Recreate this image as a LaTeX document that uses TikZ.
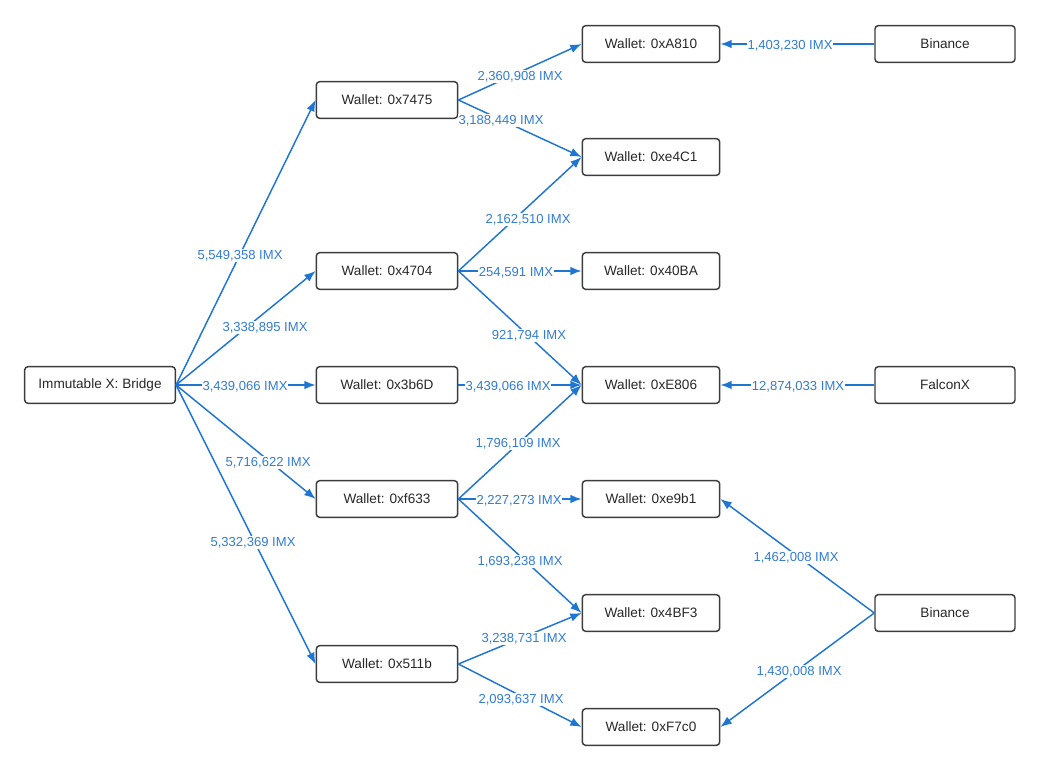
\documentclass[tikz,border=0pt]{standalone}
\usepackage{fontspec}
\setmainfont{Liberation Sans}
\usetikzlibrary{arrows.meta}
\definecolor{edgeblue}{RGB}{31,117,210}
\definecolor{lblblue}{RGB}{50,125,208}
\definecolor{boxline}{RGB}{60,60,60}
\definecolor{boxtext}{RGB}{40,40,40}
\begin{document}
\begin{tikzpicture}[x=0.75pt,y=-0.75pt,
  box/.style={draw=boxline,line width=1.1pt,rounded corners=2.5pt,fill=white,
    minimum height=27.5pt,inner sep=0pt,text=boxtext,font=\fontsize{10.2}{12}\selectfont},
  wA/.style={box,minimum width=113pt},
  wB/.style={box,minimum width=106pt},
  wC/.style={box,minimum width=103pt},
  wD/.style={box,minimum width=105pt},
  flow/.style={draw=edgeblue,line width=1.1pt,-{Latex[length=8.5pt,width=6.5pt]}},
  lbl/.style={fill=white,inner sep=0.6pt,yshift=-1.1pt,text=lblblue,font=\fontsize{9.8}{11}\selectfont}]
\useasboundingbox (0,0) rectangle (1040,770);
% nodes
\node[wA] (br) at (100,385) {Immutable X: Bridge};
\node[wB] (w7475) at (387,100) {Wallet: 0x7475};
\node[wB] (w4704) at (387,271) {Wallet: 0x4704};
\node[wB] (w3b6d) at (387,385) {Wallet: 0x3b6D};
\node[wB] (wf633) at (387,499) {Wallet: 0xf633};
\node[wB] (w511b) at (387,664) {Wallet: 0x511b};
\node[wC] (wa810) at (651,44) {Wallet: 0xA810};
\node[wC] (we4c1) at (651,157) {Wallet: 0xe4C1};
\node[wC] (w40ba) at (651,271) {Wallet: 0x40BA};
\node[wC] (we806) at (651,385) {Wallet: 0xE806};
\node[wC] (we9b1) at (651,499) {Wallet: 0xe9b1};
\node[wC] (w4bf3) at (651,613) {Wallet: 0x4BF3};
\node[wC] (wf7c0) at (651,727) {Wallet: 0xF7c0};
\node[wD] (bin1) at (945,44) {Binance};
\node[wD] (falx) at (945,385) {FalconX};
\node[wD] (bin2) at (945,613) {Binance};
% edges
\draw[flow] (br.east) -- (w7475.west);
\draw[flow] (br.east) -- (w4704.west);
\draw[flow] (br.east) -- (w3b6d.west);
\draw[flow] (br.east) -- (wf633.west);
\draw[flow] (br.east) -- (w511b.west);
\draw[flow] (w7475.east) -- (wa810.west);
\draw[flow] (w7475.east) -- (we4c1.west);
\draw[flow] (w4704.east) -- (we4c1.west);
\draw[flow] (w4704.east) -- (w40ba.west);
\draw[flow] (w4704.east) -- (we806.west);
\draw[flow] (w3b6d.east) -- (we806.west);
\draw[flow] (wf633.east) -- (we806.west);
\draw[flow] (wf633.east) -- (we9b1.west);
\draw[flow] (wf633.east) -- (w4bf3.west);
\draw[flow] (w511b.east) -- (w4bf3.west);
\draw[flow] (w511b.east) -- (wf7c0.west);
\draw[flow] (bin1.west) -- (wa810.east);
\draw[flow] (falx.west) -- (we806.east);
\draw[flow] (bin2.west) -- (we9b1.east);
\draw[flow] (bin2.west) -- (wf7c0.east);
% labels
\node[lbl] (l1) at (240,254) {5,549,358 IMX};
\node[lbl] (l2) at (265,326) {3,338,895 IMX};
\node[lbl] (l3) at (245,385) {3,439,066 IMX};
\node[lbl] (l4) at (268,461) {5,716,622 IMX};
\node[lbl] (l5) at (253,541) {5,332,369 IMX};
\node[lbl] (l6) at (520,75) {2,360,908 IMX};
\node[lbl] (l7) at (501,119) {3,188,449 IMX};
\node[lbl] (l8) at (528,218) {2,162,510 IMX};
\node[lbl] (l9) at (516,271) {254,591 IMX};
\node[lbl] (l10) at (529,334) {921,794 IMX};
\node[lbl] (l11) at (508,385) {3,439,066 IMX};
\node[lbl] (l12) at (518,442) {1,796,109 IMX};
\node[lbl] (l13) at (519,499) {2,227,273 IMX};
\node[lbl] (l14) at (520,560) {1,693,238 IMX};
\node[lbl] (l15) at (524,637) {3,238,731 IMX};
\node[lbl] (l16) at (521,698) {2,093,637 IMX};
\node[lbl] (l17) at (790,44) {1,403,230 IMX};
\node[lbl] (l18) at (798,385) {12,874,033 IMX};
\node[lbl] (l19) at (796,556) {1,462,008 IMX};
\node[lbl] (l20) at (799,670) {1,430,008 IMX};
\end{tikzpicture}
\end{document}
